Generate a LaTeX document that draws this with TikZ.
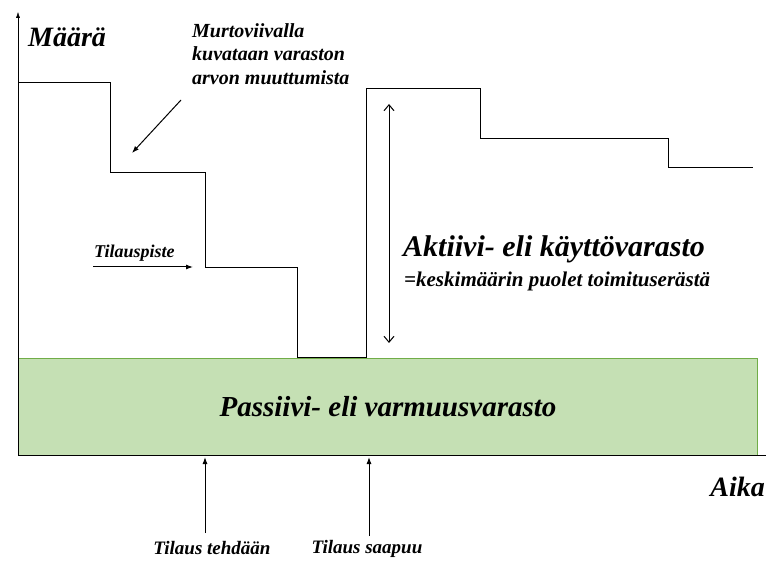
\documentclass[tikz,border=0pt]{standalone}
\usepackage{fontspec}
\setmainfont{Liberation Serif}
\usetikzlibrary{arrows.meta}

\definecolor{varmuusfill}{RGB}{197,224,180}
\definecolor{varmuusdraw}{RGB}{112,173,71}

\newcommand{\bi}[2]{\fontsize{#1}{#2}\selectfont\bfseries\itshape}

\tikzset{
  teksti/.style={inner sep=0pt},
  nuoli/.style={-{Latex[length=7pt,width=5pt]}, line width=1pt},
}

\begin{document}
\begin{tikzpicture}[x=1pt,y=-1pt]
  \useasboundingbox (0,0) rectangle (769,561);
  % passiivivarasto
  \filldraw[fill=varmuusfill, draw=varmuusdraw] (18,358) rectangle (757,455);
  \node[teksti, font=\bi{29}{32}] (passiivi) at (388,407) {Passiivi- eli varmuusvarasto};
  % akselit
  \coordinate (origo) at (18,455);
  \coordinate (ykarki) at (18,12);
  \coordinate (xkarki) at (766,455);
  \draw[-{Latex[length=6pt,width=4pt]}] (origo) -- (ykarki);
  \draw (origo) -- (xkarki);
  \node[teksti, font=\bi{28}{30}, anchor=west] (maara) at (28,37) {Määrä};
  \node[teksti, font=\bi{28}{30}, anchor=east] (aika) at (765,487) {Aika};
  % murtoviiva
  \draw (18,82) -| (110,172) -| (205,267) -| (297,357) -| (366,88) -| (480,138) -| (668,167) -- (753,167);
  % selitys
  \node[teksti, font=\bi{20}{23.5}, anchor=north west, align=left] (murto) at (192,23)
    {Murtoviivalla\\kuvataan varaston\\arvon muuttumista};
  \coordinate (murtoA) at (181,100);
  \coordinate (murtoB) at (132,153);
  \draw[nuoli] (murtoA) -- (murtoB);
  % tilauspiste
  \node[teksti, font=\bi{18}{20}, anchor=south west] (piste) at (94,262) {Tilauspiste};
  \coordinate (pisteA) at (93,267);
  \coordinate (pisteB) at (193,267);
  \draw[nuoli] (pisteA) -- (pisteB);
  % aktiivivarasto
  \coordinate (aktYla) at (389,104);
  \coordinate (aktAla) at (389,343);
  \draw[{Straight Barb[length=6pt,width=10pt]}-{Straight Barb[length=6pt,width=10pt]}, line width=1pt] (aktYla) -- (aktAla);
  \node[teksti, font=\bi{30}{32}, anchor=west] (aktiivi) at (403,249) {Aktiivi- eli käyttövarasto};
  \node[teksti, font=\bi{21}{24}, anchor=west] (puolet) at (404,281) {=keskimäärin puolet toimituserästä};
  % tilaukset
  \node[teksti, font=\bi{19}{21}] (tehdaan) at (212,548) {Tilaus tehdään};
  \node[teksti, font=\bi{19}{21}] (saapuu) at (367,549) {Tilaus saapuu};
  \coordinate (tehdaanA) at (205,533);
  \coordinate (tehdaanB) at (205,457);
  \coordinate (saapuuA) at (369,536);
  \coordinate (saapuuB) at (369,457);
  \draw[nuoli] (tehdaanA) -- (tehdaanB);
  \draw[nuoli] (saapuuA) -- (saapuuB);
\end{tikzpicture}
\end{document}
